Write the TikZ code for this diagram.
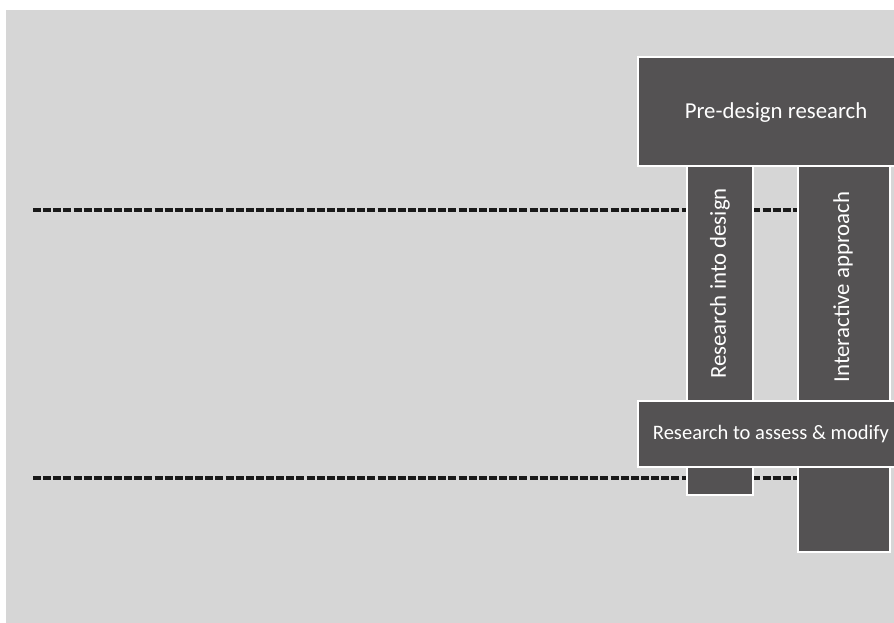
\documentclass[tikz,border=0pt]{standalone}
\usepackage{fontspec}
\setmainfont{Carlito}
\usepackage{tikz}
\usetikzlibrary{positioning,calc}
\definecolor{fondo}{RGB}{214,214,214}
\definecolor{scuro}{RGB}{84,82,83}
\tikzstyle{blocco} = [rectangle, fill=scuro, draw=white, line width=1.5pt, inner sep=0pt]
\tikzstyle{testo} = [text=white, inner sep=0pt, font=\fontsize{17.1}{20}\selectfont]
\tikzstyle{linea} = [line width=2.6pt, draw=black!90, dash pattern=on 6pt off 1.6pt]

\begin{document}
\begin{tikzpicture}[x=0.75pt,y=-0.75pt]
						\useasboundingbox (0,0) rectangle (894,623);
						\clip (0,0) rectangle (894,623);
						\fill[white] (0,0) rectangle (894,623);
						\fill[fondo] (6,10) rectangle (900,630);
						% linee tratteggiate
						\coordinate (l1a) at (33,210);
						\coordinate (l1b) at (810,210);
						\coordinate (l2a) at (33,478);
						\coordinate (l2b) at (810,478);
						\draw[linea, draw=black!30, opacity=0.6, yshift=-1pt] (l1a) -- (l1b);
						\draw[linea, draw=black!30, opacity=0.6, yshift=-1pt] (l2a) -- (l2b);
						\draw[linea] (l1a) -- (l1b);
						\draw[linea] (l2a) -- (l2b);
						% colonne
						\node (c1) at (720,327.5) [blocco, minimum width=49.5pt, minimum height=251.25pt] {};
						\node (c2) at (844,356) [blocco, minimum width=69pt, minimum height=294pt] {};
						\node (t1) at (720,283.5) [testo, rotate=90] {Research into design};
						\node (t2) at (843,287) [testo, rotate=90] {Interactive approach};
						% blocchi orizzontali
						\node (pre) at (776,111.5) [blocco, minimum width=207pt, minimum height=81.75pt] {};
						\node (tp) at (776,113) [testo] {Pre-design research};
						\node (ass) at (771,434) [blocco, minimum width=199.5pt, minimum height=49.5pt] {};
						\node (ta) at (771,434) [testo, font=\fontsize{15.4}{18}\selectfont] {Research to assess \& modify};
					\end{tikzpicture}
\end{document}
